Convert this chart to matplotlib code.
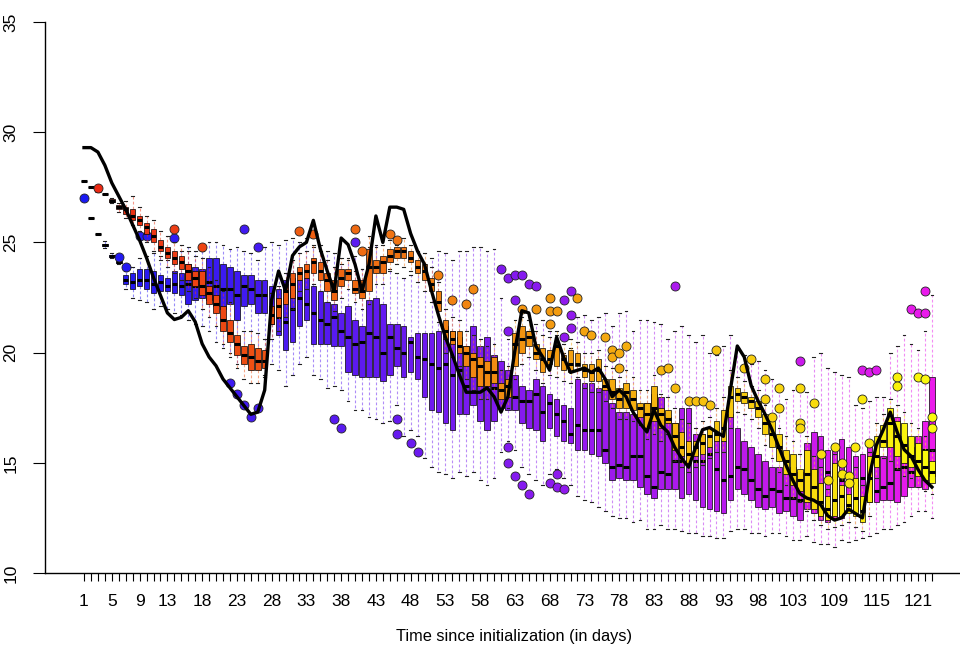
import numpy as np
import matplotlib
matplotlib.use("Agg")
import matplotlib.pyplot as plt

plt.rcParams['font.family'] = ['Liberation Sans', 'DejaVu Sans']

# ---------------- data ----------------
days = list(range(1, 124))
shown_labels = [1, 5, 9, 13, 18, 23, 28, 33, 38, 43, 48, 53, 58, 63, 68, 73, 78, 83, 88, 93, 98, 103, 109, 115, 121]
y_ticks = [10, 15, 20, 25, 30, 35]
x_label = "Time since initialization (in days)"

obs = [29.3,29.3,29.1,28.5,27.7,27.1,26.5,25.8,25.1,24.3,
       23.4,22.6,21.8,21.5,21.6,21.9,21.4,20.4,19.8,19.4,
       18.8,18.4,18.0,17.6,17.2,17.3,18.3,22.4,23.7,22.8,
       24.4,24.8,25.0,26.0,24.7,23.7,22.8,25.2,24.9,24.0,
       22.8,24.0,26.2,25.0,26.6,26.6,26.5,25.4,24.6,24.0,
       22.8,21.7,20.7,19.9,19.0,18.2,18.2,18.2,18.4,18.0,
       17.3,18.0,20.1,21.9,21.8,20.3,19.8,19.2,20.7,19.8,
       19.1,19.2,19.3,19.1,19.3,18.8,18.0,18.3,18.0,17.3,
       16.8,16.4,17.4,16.7,16.4,15.7,15.2,14.8,15.7,16.5,
       16.6,16.4,16.2,18.3,20.3,19.8,18.5,17.8,17.2,16.5,
       15.7,14.9,14.2,13.6,13.4,13.3,13.1,12.6,12.4,12.5,
       12.9,12.7,12.5,14.4,15.8,16.5,17.3,16.4,15.6,15.3,
       14.7,14.2,13.9]

# cool ensemble (blue -> magenta)
cool_med = [27.0,26.1,25.4,24.9,24.4,24.1,23.3,23.2,23.3,23.3,
            23.1,23.2,23.0,23.1,23.0,23.1,23.0,23.1,23.2,23.0,
            22.9,22.9,22.6,23.0,22.9,22.6,22.6,22.0,21.6,21.4,
            22.0,22.5,22.2,21.8,21.5,21.3,21.6,21.0,20.7,20.4,
            20.5,20.9,20.7,20.0,20.7,20.2,20.0,20.5,19.8,19.7,
            19.5,19.3,19.5,19.0,19.2,18.5,19.4,18.9,18.7,18.4,
            18.4,18.5,18.0,17.8,17.8,18.1,17.3,17.7,17.2,16.9,
            16.3,16.7,16.5,16.5,16.5,15.6,14.8,14.9,14.8,15.3,
            15.3,14.4,13.9,14.6,14.5,15.1,15.1,15.4,15.1,15.1,
            15.4,14.7,14.2,14.4,14.8,14.7,14.2,13.8,13.5,13.8,
            13.7,13.4,13.4,13.3,13.7,13.9,14.0,14.6,14.3,14.2,
            14.5,14.0,14.3,14.8,13.7,13.9,14.1,14.7,14.8,14.6,
            15.0,15.6,15.6]
cool_q1 = [27.0,26.1,25.4,24.85,24.35,24.05,23.1,22.9,23.0,22.9,
           22.7,22.8,22.8,22.7,22.6,22.2,22.4,22.5,22.4,22.1,
           22.0,22.2,21.5,22.1,22.2,21.8,21.8,21.3,20.8,20.1,
           20.5,21.2,21.5,20.4,20.4,20.4,20.3,20.3,19.1,19.0,
           18.9,18.9,18.9,18.7,19.0,19.4,18.9,19.1,18.8,18.0,
           17.4,17.3,16.8,16.5,17.2,17.2,17.6,16.9,16.5,16.9,
           17.5,17.4,17.4,16.8,16.6,16.5,16.0,16.6,16.2,16.0,
           15.9,15.6,15.6,15.4,15.3,15.0,14.2,14.3,14.2,14.2,
           13.9,13.6,13.4,13.8,13.8,13.8,13.4,13.6,13.3,13.0,
           12.9,12.8,12.7,13.3,13.8,13.6,13.3,13.0,12.9,13.0,
           12.7,12.8,12.6,12.4,12.9,12.7,12.4,12.3,12.5,12.5,
           12.8,12.8,12.8,13.2,13.2,13.3,13.3,13.2,13.5,13.9,
           13.9,13.8,14.4]
cool_q3 = [27.0,26.1,25.4,24.95,24.45,24.15,23.5,23.6,23.8,23.8,
           23.7,23.5,23.4,23.7,23.6,24.0,23.9,23.8,24.3,24.3,
           24.0,23.9,23.7,23.5,23.5,23.3,23.3,23.0,22.9,23.3,
           23.4,23.3,23.4,23.0,22.8,22.3,22.2,21.8,22.1,21.5,
           21.2,22.4,22.5,22.2,21.3,21.3,21.2,20.7,20.9,20.9,
           20.9,21.0,21.2,21.0,20.7,20.3,21.2,20.3,20.7,19.9,
           19.6,19.2,19.0,18.5,18.3,18.8,18.5,18.1,17.9,17.6,
           17.5,18.8,18.6,18.6,18.4,18.5,17.7,17.3,17.3,17.2,
           17.2,17.7,18.1,18.0,17.1,16.8,17.5,17.5,16.3,16.3,
           15.7,16.2,16.0,17.2,16.6,16.0,15.7,15.4,15.1,14.8,
           14.8,14.5,14.8,14.6,15.9,16.4,16.2,15.6,15.8,16.1,
           15.7,15.3,15.4,15.9,15.3,15.3,17.2,17.1,16.2,15.7,
           16.2,16.9,18.9]
cool_lo = [27.0,26.1,25.4,24.75,24.3,24.0,22.9,22.5,22.4,22.3,
           22.0,22.1,22.0,21.8,21.7,21.5,21.3,21.2,21.0,20.5,
           20.2,20.0,19.5,19.8,19.5,19.3,19.0,19.5,19.2,18.5,
           19.0,19.5,19.8,19.0,18.8,18.4,18.5,18.3,17.8,17.4,
           17.4,17.1,17.0,16.8,16.9,17.6,16.2,16.5,16.2,15.2,
           14.8,14.6,14.5,14.3,14.6,14.4,14.6,14.2,14.0,14.3,
           15.5,16.0,15.6,14.8,14.5,14.2,14.0,14.5,14.7,14.3,
           14.0,13.5,13.3,13.2,13.0,12.8,12.6,12.5,12.5,12.3,
           12.4,12.0,12.0,12.2,12.0,12.0,11.9,11.8,11.8,11.7,
           11.7,11.6,11.6,11.9,12.0,12.0,11.8,11.8,11.7,11.8,
           11.8,11.7,11.5,11.5,11.7,11.4,11.3,11.3,11.2,11.5,
           11.4,11.5,11.6,11.7,11.8,12.0,12.0,12.2,12.3,12.6,
           12.8,12.8,12.5]
cool_hi = [27.0,26.1,25.4,25.05,24.5,24.2,23.7,23.9,24.3,24.4,
           24.5,24.4,24.2,24.5,24.6,24.8,24.6,24.6,25.0,25.0,
           24.9,24.7,24.8,24.6,24.5,24.2,24.8,25.0,24.9,25.1,
           25.2,25.0,25.2,24.8,24.9,24.6,24.5,24.0,24.2,24.4,
           23.8,24.8,24.9,24.0,23.8,23.6,23.4,23.5,23.8,24.0,
           24.3,24.6,24.5,24.2,24.6,24.6,24.8,24.8,24.6,24.7,
           22.5,20.6,20.5,21.0,21.0,21.3,21.5,21.0,20.8,20.0,
           20.2,21.6,21.7,21.5,21.6,21.8,21.2,21.8,21.9,21.0,
           21.5,21.5,21.4,21.3,20.6,21.0,21.2,20.8,20.5,20.8,
           20.0,19.9,20.3,20.8,20.2,19.9,19.5,19.6,19.2,18.8,
           18.4,17.9,18.3,18.5,18.2,19.8,20.0,19.3,19.1,19.0,
           18.9,17.6,17.5,17.8,18.0,18.0,20.0,20.3,20.8,20.4,
           20.1,21.0,22.6]
cool_out_day = [1, 6, 7, 9, 10, 14, 22, 23, 24, 24, 25, 26, 26, 37, 38, 40, 46, 46, 48, 49,
                61, 62, 62, 62, 62, 63, 63, 63, 64, 64, 65, 65, 66, 68, 69, 69, 70, 70, 70,
                71, 71, 71, 86, 104, 113, 114, 115, 120, 121, 122, 122]
cool_out_val = [27.0, 24.35, 23.9, 25.3, 25.3, 25.2, 18.6, 18.1, 25.6, 17.6, 17.1, 24.8, 17.5, 17.0, 16.6, 25.0, 17.0, 16.3, 15.9, 15.5,
                23.8, 23.4, 21.0, 15.7, 15.0, 23.5, 22.4, 14.4, 23.5, 14.0, 23.1, 13.6, 23.0, 14.1, 14.5, 13.9, 22.4, 20.7, 13.8,
                22.8, 21.7, 21.1, 23.0, 19.6, 19.2, 19.1, 19.2, 22.0, 21.8, 21.8, 22.8]

# warm ensemble (red -> yellow)
warm_med = [27.8,27.5,27.35,27.2,26.9,26.6,26.5,26.2,26.0,25.7,
            25.3,24.8,24.5,24.3,24.1,23.7,23.4,23.0,22.7,22.2,
            21.5,20.9,20.4,19.9,19.8,19.6,19.6,21.7,22.1,22.8,
            23.1,23.6,23.7,24.1,23.7,23.3,22.8,23.4,23.6,22.9,
            22.8,23.9,23.9,24.1,24.4,24.6,24.6,24.3,23.9,23.7,
            23.1,22.3,21.0,20.6,20.3,20.0,19.7,19.4,19.1,19.1,
            18.3,18.5,20.4,20.6,20.7,20.0,19.7,19.7,20.3,19.7,
            19.5,19.5,19.2,19.1,19.2,18.5,18.2,17.9,18.2,17.9,
            17.5,17.2,17.5,17.2,17.0,16.2,15.7,15.4,15.7,15.9,
            16.2,16.3,16.6,18.0,18.1,18.0,17.8,17.5,16.8,16.3,
            15.7,15.1,14.5,14.2,14.5,13.9,13.2,12.9,13.3,13.5,
            13.1,13.4,12.8,14.3,15.3,16.0,16.8,16.2,15.8,15.3,
            15.1,14.8,14.6]
warm_q1 = [27.8,27.5,27.35,27.2,26.85,26.5,26.3,26.0,25.8,25.4,
           25.0,24.6,24.3,24.0,23.8,23.3,23.0,22.6,22.2,21.8,
           21.0,20.5,19.9,19.5,19.2,19.2,19.3,21.3,21.6,22.2,
           22.5,23.3,23.4,23.6,23.3,22.8,22.4,23.0,23.3,22.7,
           22.5,22.8,23.6,23.6,24.1,24.3,24.3,24.1,23.6,23.3,
           22.8,21.9,20.6,20.4,20.0,19.4,18.9,18.5,18.5,18.6,
           17.9,18.0,19.4,20.0,20.3,19.7,19.1,19.5,19.4,19.2,
           19.1,19.4,18.9,18.7,18.7,18.3,17.9,17.5,17.5,17.4,
           17.1,16.6,16.9,16.6,16.8,15.6,15.3,15.0,15.3,15.4,
           15.7,16.0,16.0,17.1,17.8,17.7,17.5,17.1,16.3,15.7,
           15.1,14.5,14.0,13.7,13.2,12.9,12.6,12.4,12.6,12.6,
           12.7,12.6,12.3,13.2,14.8,15.7,15.7,15.3,15.0,14.8,
           14.4,14.2,14.1]
warm_q3 = [27.8,27.5,27.35,27.2,26.95,26.7,26.6,26.5,26.2,25.9,
           25.6,25.1,24.8,24.6,24.4,24.0,23.7,23.7,23.0,22.6,
           22.1,21.5,20.8,20.3,20.4,20.2,20.1,22.1,22.5,23.1,
           23.6,23.9,24.0,24.3,24.1,23.6,23.3,23.8,23.8,23.3,
           23.3,24.7,24.2,24.4,24.7,24.8,24.8,24.6,24.2,24.0,
           23.4,22.8,21.5,21.0,21.0,20.3,20.0,19.8,19.6,19.8,
           18.6,18.8,20.9,21.2,21.0,20.4,20.2,20.1,20.4,19.9,
           20.1,20.0,19.5,19.5,19.7,18.8,18.8,18.4,18.6,18.3,
           17.7,17.7,18.5,17.5,17.4,16.8,16.4,16.0,16.0,16.3,
           16.6,16.9,17.4,18.5,18.4,18.2,18.0,17.8,17.2,16.9,
           16.3,15.6,15.4,14.7,15.6,14.7,14.1,13.5,15.0,14.0,
           13.6,14.3,13.5,15.3,16.2,16.7,17.5,16.9,16.8,16.2,
           15.9,15.6,15.1]
warm_lo = [27.8,27.5,27.35,27.2,26.8,26.4,26.1,25.8,25.5,25.0,
           24.6,24.2,23.9,23.6,23.3,22.8,22.5,22.0,21.6,21.2,
           20.4,19.8,19.3,18.8,18.6,18.6,18.9,20.6,21.0,21.6,
           22.0,22.8,22.9,23.1,22.8,22.3,21.9,22.5,22.9,22.3,
           22.0,22.2,23.1,23.1,23.7,24.0,23.9,23.7,23.2,22.8,
           22.3,21.4,20.0,19.8,19.4,18.8,18.3,17.9,17.9,18.0,
           17.4,17.5,18.8,19.5,19.8,19.2,18.6,19.0,18.9,18.7,
           18.6,18.9,18.4,18.2,18.2,17.8,17.5,17.0,17.0,16.9,
           16.7,16.1,16.3,16.0,16.3,15.1,14.8,14.6,14.8,14.9,
           15.2,15.5,15.5,16.6,17.3,17.2,17.0,16.6,15.8,15.2,
           14.6,14.0,13.4,13.2,12.8,12.4,12.2,12.0,12.1,12.2,
           12.3,12.1,11.9,12.6,14.3,15.2,15.1,14.7,14.4,14.3,
           13.9,13.7,13.6]
warm_hi = [27.8,27.5,27.35,27.2,27.0,26.8,26.9,27.1,26.6,26.2,
           26.0,25.5,25.3,25.0,24.9,24.6,24.4,24.3,23.9,23.3,
           22.8,22.3,21.5,21.0,21.0,20.9,20.6,22.7,23.0,23.6,
           24.2,24.5,24.6,24.9,24.6,24.2,23.9,24.3,24.3,23.7,
           23.8,25.3,24.8,24.9,25.1,24.9,25.2,24.9,24.6,24.5,
           23.9,23.2,22.0,21.6,21.5,21.0,20.8,20.6,20.3,20.4,
           19.2,19.4,21.5,21.6,21.5,21.0,20.8,20.7,21.0,20.4,
           20.6,20.5,20.0,20.0,20.1,19.4,19.3,18.9,19.2,18.9,
           18.3,18.3,19.0,18.1,18.0,17.5,17.0,16.8,16.6,16.9,
           17.1,17.5,18.0,19.2,18.9,18.7,18.5,18.3,17.6,16.9,
           16.6,16.2,16.0,15.4,16.2,15.3,14.8,13.8,15.4,14.3,
           13.9,14.8,14.0,15.5,16.8,17.2,17.9,17.6,17.3,16.8,
           16.6,16.2,15.6]
warm_out_day = [3, 14, 18, 32, 34, 40, 41, 45, 46, 52, 54, 56, 57, 64, 66, 68, 68, 68, 69,
                72, 73, 74, 76, 77, 77, 78, 78, 79, 84, 85, 86, 88, 89, 90, 91, 92, 96, 97,
                99, 99, 100, 101, 101, 104, 104, 104, 106, 107, 108, 109, 110, 110, 111, 111,
                112, 113, 114, 118, 118, 121, 122, 123, 123]
warm_out_val = [27.45, 25.6, 24.8, 25.5, 25.4, 25.6, 24.6, 25.4, 25.1, 23.5, 22.4, 22.2, 22.9, 22.0, 22.0, 22.5, 21.9, 21.3, 21.9,
                22.5, 21.0, 20.8, 20.7, 20.1, 19.8, 20.0, 19.3, 20.3, 19.2, 19.3, 18.4, 17.8, 17.8, 17.8, 17.6, 20.1, 19.3, 19.7,
                18.8, 17.9, 17.1, 18.4, 17.5, 18.4, 16.8, 16.6, 17.7, 15.4, 14.2, 15.7, 15.0, 14.5, 14.4, 14.1,
                15.7, 17.9, 15.9, 18.9, 18.5, 18.9, 18.8, 17.1, 16.6]

# ---------------- figure ----------------
W, H = 960, 645
fig = plt.figure(figsize=(W / 100, H / 100), dpi=100)
L, R, B, T = 45, 960, 573, 22
ax = fig.add_axes([L / W, 1 - B / H, (R - L) / W, (B - T) / H])

n = len(days)
x0 = 1 - (84 - L) / 6.95
x1 = 1 + (R - 84) / 6.95
ax.set_xlim(x0, x1)
ax.set_ylim(10, 35)


def ramp(c0, c1, k):
    t = k / (n - 1)
    return tuple(c0[j] + (c1[j] - c0[j]) * t for j in range(3))


def draw_series(med, q1, q3, lo, hi, od, ov, c0, c1, z):
    stats = []
    for i, d in enumerate(days):
        fl = [v for dd, v in zip(od, ov) if dd == d]
        stats.append(dict(med=med[i], q1=q1[i], q3=q3[i], whislo=lo[i], whishi=hi[i], fliers=fl))
    res = ax.bxp(stats, positions=days, widths=0.8, patch_artist=True, showfliers=True,
                 manage_ticks=False, capwidths=0.4,
                 boxprops=dict(edgecolor='black', linewidth=0.5),
                 medianprops=dict(color='black', linewidth=2.2, solid_capstyle='butt'),
                 whiskerprops=dict(linewidth=0.8, linestyle=(0, (2.5, 2))),
                 capprops=dict(color='#222222', linewidth=0.8),
                 flierprops=dict(marker='o', markersize=6.5, markeredgecolor='#222222',
                                 markeredgewidth=0.6, linestyle='none'))
    for i in range(n):
        c = ramp(c0, c1, i)
        res['boxes'][i].set_facecolor(c)
        res['boxes'][i].set_zorder(z)
        res['medians'][i].set_zorder(z + 0.1)
        for w in res['whiskers'][2 * i:2 * i + 2]:
            w.set_color(c)
            w.set_alpha(0.5)
            w.set_zorder(z - 0.5)
        for cp in res['caps'][2 * i:2 * i + 2]:
            cp.set_zorder(z - 0.5)
        res['fliers'][i].set_markerfacecolor(c)
        res['fliers'][i].set_zorder(z + 0.2)


draw_series(cool_med, cool_q1, cool_q3, cool_lo, cool_hi, cool_out_day, cool_out_val,
            (0.1, 0.1, 0.95), (0.92, 0.1, 0.92), 2)
draw_series(warm_med, warm_q1, warm_q3, warm_lo, warm_hi, warm_out_day, warm_out_val,
            (0.92, 0.15, 0.08), (0.98, 0.98, 0.05), 3)

ax.plot(days, obs, color='black', linewidth=2.4, zorder=5, solid_joinstyle='round')

# axes styling
for s in ['top', 'right']:
    ax.spines[s].set_visible(False)
ax.spines['left'].set_bounds(10, 35)
ax.spines['left'].set_linewidth(1.0)
ax.spines['bottom'].set_linewidth(1.0)

ax.set_xticks(days)
ax.set_xticklabels([str(d) if d in shown_labels else '' for d in days])
ax.tick_params(axis='x', length=6, width=0.8, pad=9, labelsize=12.5)
ax.set_yticks(y_ticks)
ax.set_yticklabels([str(v) for v in y_ticks], rotation=90, va='center')
ax.tick_params(axis='y', length=9, width=0.8, pad=10, labelsize=12.5)

ax.set_xlabel(x_label, fontsize=11.8)
ax.xaxis.set_label_coords((514 - L) / (R - L), -(636 - B) / (B - T))
ax.xaxis.label.set_va('center')

fig.savefig('out.png', dpi=100)
